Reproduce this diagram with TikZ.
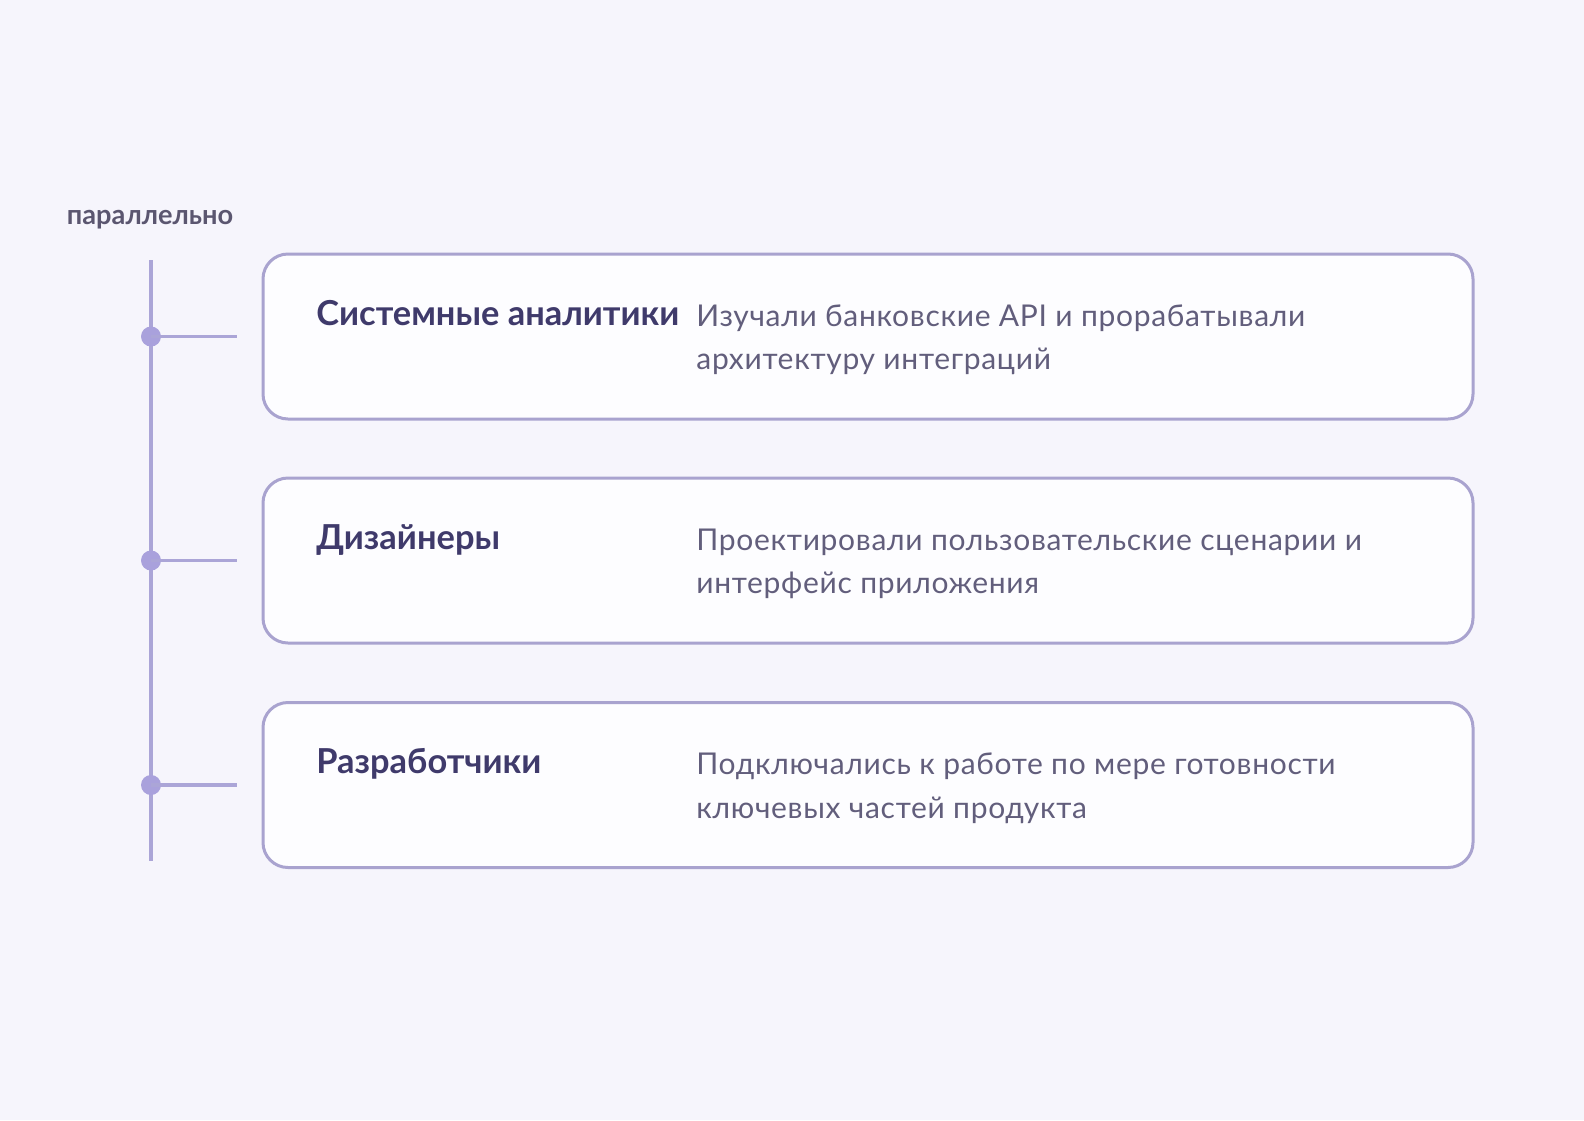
\documentclass[tikz,border=0pt]{standalone}
\usepackage{fontspec}
\setmainfont{Lato}
\usetikzlibrary{positioning,calc}

\definecolor{bgcol}{HTML}{F6F5FC}
\definecolor{boxfill}{HTML}{FDFDFF}
\definecolor{boxline}{HTML}{A9A3CF}
\definecolor{dotcol}{HTML}{A9A1DC}
\definecolor{linecol}{HTML}{ABA5D7}
\definecolor{titlecol}{HTML}{3F3A6B}
\definecolor{desccol}{HTML}{625E7C}
\definecolor{notecol}{HTML}{5B5670}

\tikzset{
    rolebox/.style={draw=boxline, fill=boxfill, line width=1.5pt,
        rounded corners=12.5pt, minimum width=605pt, minimum height=82.5pt,
        inner sep=0pt},
    roledot/.style={circle, fill=dotcol, minimum size=10pt, inner sep=0pt},
    rolename/.style={anchor=base west, inner sep=0pt, text=titlecol,
        font=\bfseries\fontsize{17.2}{21}\selectfont},
    roletext/.style={anchor=base west, inner sep=0pt, text=desccol,
        font=\fontsize{15}{21.5}\selectfont\addfontfeature{LetterSpace=2.3}},
    rail/.style={draw=linecol, line width=1.75pt}
}

\begin{document}
\begin{tikzpicture}[x=0.5pt,y=-0.5pt]
    \fill [bgcol] (0,0) rectangle (1584,1120);
    \useasboundingbox (0,0) rectangle (1584,1120);

    \node [anchor=base, inner sep=0pt, text=notecol,
        font=\bfseries\fontsize{13.6}{15}\selectfont] (par) at (150,224) {параллельно};

    \coordinate (top) at (151,260);
    \coordinate (bottom) at (151,861);
    \draw [rail] (top) -- (bottom);

    \node [rolebox] (box1) at (868,336.5) {};
    \node [rolebox] (box2) at (868,560.5) {};
    \node [rolebox] (box3) at (868,785) {};

    \node [roledot] (dot1) at (151,336.5) {};
    \node [roledot] (dot2) at (151,560.5) {};
    \node [roledot] (dot3) at (151,785) {};
    \coordinate (tick1) at (237,336.5);
    \coordinate (tick2) at (237,560.5);
    \coordinate (tick3) at (237,785);
    \draw [rail] (dot1.center) -- (tick1);
    \draw [rail] (dot2.center) -- (tick2);
    \draw [rail] (dot3.center) -- (tick3);

    \node [rolename] (name1) at (316,325) {Системные аналитики};
    \node [roletext] (text1a) at (696,326) {Изучали банковские API и прорабатывали};
    \node [roletext] (text1b) at (696,369.5) {архитектуру интеграций};

    \node [rolename] (name2) at (316,549) {Дизайнеры};
    \node [roletext] (text2a) at (696,550) {Проектировали пользовательские сценарии и};
    \node [roletext] (text2b) at (696,593.5) {интерфейс приложения};

    \node [rolename] (name3) at (316,773.5) {Разработчики};
    \node [roletext] (text3a) at (696,774.5) {Подключались к работе по мере готовности};
    \node [roletext] (text3b) at (696,818) {ключевых частей продукта};
\end{tikzpicture}
\end{document}
